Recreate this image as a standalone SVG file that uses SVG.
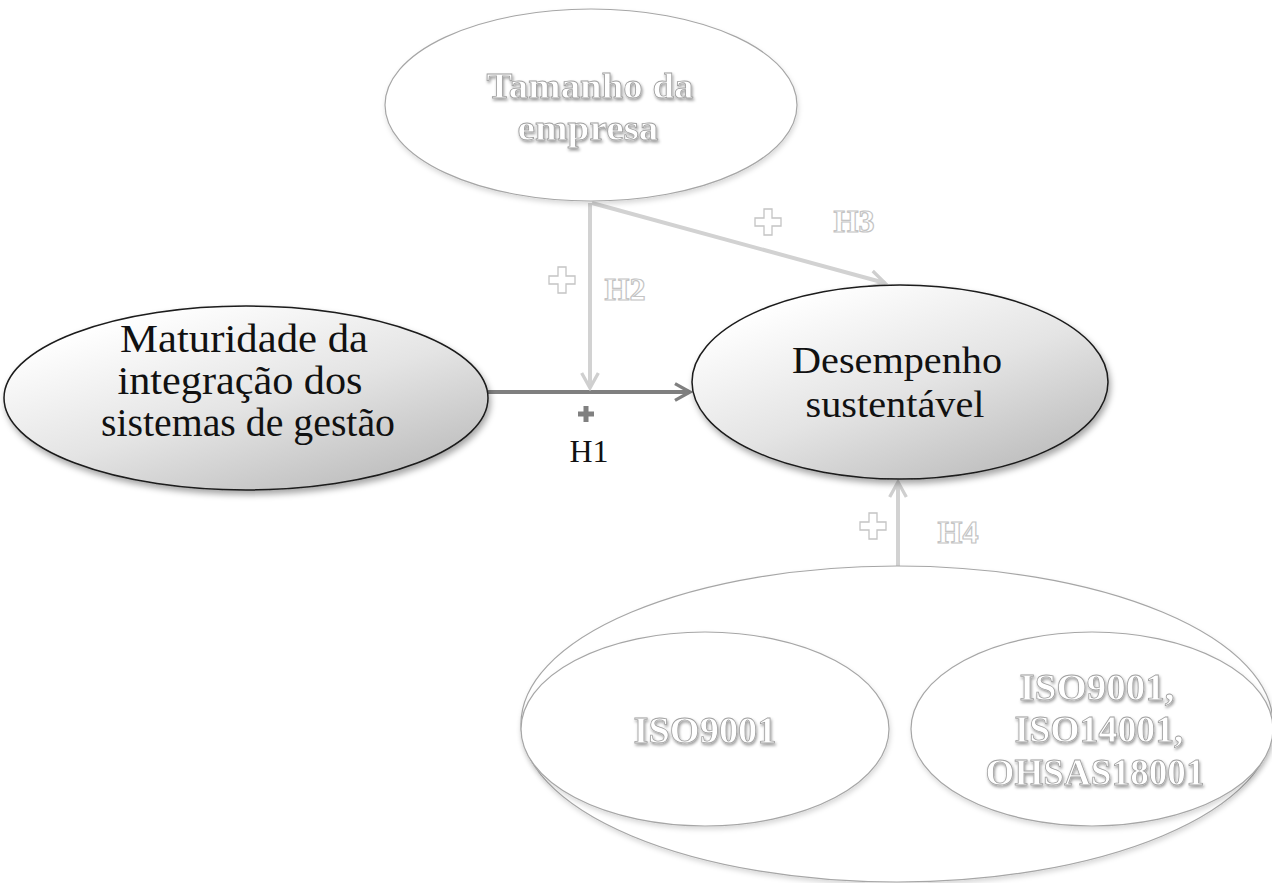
<svg xmlns="http://www.w3.org/2000/svg" width="1272" height="883" viewBox="0 0 1272 883">
<defs>
<linearGradient id="gFill" x1="0.2" y1="0.1" x2="0.85" y2="0.95">
<stop offset="0" stop-color="#ffffff"/>
<stop offset="0.5" stop-color="#e4e4e4"/>
<stop offset="1" stop-color="#bcbcbc"/>
</linearGradient>
<filter id="shadow" x="-10%" y="-10%" width="125%" height="130%">
<feDropShadow dx="2" dy="4" stdDeviation="3" flood-color="#000" flood-opacity="0.35"/>
</filter>
<filter id="softShadow" x="-10%" y="-10%" width="125%" height="130%">
<feDropShadow dx="1" dy="3" stdDeviation="2.5" flood-color="#000" flood-opacity="0.15"/>
</filter>
<filter id="txtShadow" x="-10%" y="-20%" width="130%" height="150%">
<feDropShadow dx="1" dy="2" stdDeviation="1.5" flood-color="#000" flood-opacity="0.4"/>
</filter>
<marker id="arrDark" viewBox="0 0 12 12" refX="10" refY="6" markerWidth="5" markerHeight="5" markerUnits="strokeWidth" orient="auto">
<path d="M1,1 L10,6 L1,11" fill="none" stroke="#7f7f7f" stroke-width="2"/>
</marker>
<marker id="arrLight" viewBox="0 0 12 12" refX="10" refY="6" markerWidth="5" markerHeight="5" markerUnits="strokeWidth" orient="auto">
<path d="M1,1 L10,6 L1,11" fill="none" stroke="#cfcfcf" stroke-width="2"/>
</marker>
<path id="plus" d="M-4,-13 H4 V-4 H13 V4 H4 V13 H-4 V4 H-13 V-4 H-4 Z"/>
<path id="plusS" d="M-2.5,-8 H2.5 V-2.5 H8 V2.5 H2.5 V8 H-2.5 V2.5 H-8 V-2.5 H-2.5 Z"/>
</defs>
<style>
.main{fill:url(#gFill);stroke:#1a1a1a;stroke-width:1.5;filter:url(#shadow)}
.plain{fill:#ffffff;stroke:#a6a6a6;stroke-width:1.2;filter:url(#softShadow)}
.dark{font-family:"Liberation Serif","DejaVu Serif",serif;fill:#111;text-anchor:middle}
.emb{font-family:"Liberation Serif","DejaVu Serif",serif;font-weight:bold;fill:#ffffff;stroke:#a0a0a0;stroke-width:0.8;text-anchor:middle;filter:url(#txtShadow)}
.lab{font-family:"Liberation Serif","DejaVu Serif",serif;font-weight:bold;fill:#ffffff;stroke:#c4c4c4;stroke-width:1.2;font-size:32px;text-anchor:middle}
.cdark{fill:none;stroke:#7f7f7f;stroke-width:4}
.clight{fill:none;stroke:#d2d2d2;stroke-width:4}
.plusL{fill:#ffffff;stroke:#c4c4c4;stroke-width:1.3}
.plusD{fill:#808080}
</style>

<g id="connectors">
<line class="cdark" x1="488" y1="392" x2="690" y2="392" marker-end="url(#arrDark)"/>
<line class="clight" x1="590" y1="203" x2="590" y2="388" marker-end="url(#arrLight)"/>
<line class="clight" x1="592" y1="203" x2="885" y2="283" marker-end="url(#arrLight)"/>
<line class="clight" x1="898" y1="567" x2="898" y2="482" marker-end="url(#arrLight)"/>
</g>

<g id="node-tamanho">
<ellipse class="plain" cx="591" cy="105" rx="206" ry="96"/>
<text class="emb" x="590" y="98" font-size="35" textLength="207" lengthAdjust="spacingAndGlyphs">Tamanho da</text>
<text class="emb" x="588" y="140" font-size="35" textLength="141" lengthAdjust="spacingAndGlyphs">empresa</text>
</g>

<g id="node-maturidade">
<ellipse class="main" cx="246" cy="398" rx="242" ry="92"/>
<text class="dark" x="244" y="352" font-size="40" textLength="248" lengthAdjust="spacingAndGlyphs">Maturidade da</text>
<text class="dark" x="240" y="394" font-size="40" textLength="245" lengthAdjust="spacingAndGlyphs">integração dos</text>
<text class="dark" x="248" y="436" font-size="40" textLength="294" lengthAdjust="spacingAndGlyphs">sistemas de gestão</text>
</g>

<g id="node-desempenho">
<ellipse class="main" cx="900" cy="382" rx="208" ry="97"/>
<text class="dark" x="897" y="373" font-size="38" textLength="210" lengthAdjust="spacingAndGlyphs">Desempenho</text>
<text class="dark" x="895" y="417" font-size="38" textLength="179" lengthAdjust="spacingAndGlyphs">sustentável</text>
</g>

<g id="node-iso-group">
<ellipse class="plain" cx="897" cy="724" rx="376" ry="158"/>
</g>

<g id="node-iso9001">
<ellipse class="plain" cx="705" cy="729" rx="184" ry="97"/>
<text class="emb" x="705" y="743" font-size="38" textLength="143" lengthAdjust="spacingAndGlyphs">ISO9001</text>
</g>

<g id="node-iso-multi">
<ellipse class="plain" cx="1092" cy="729" rx="181" ry="97"/>
<text class="emb" x="1097" y="700" font-size="37" textLength="155" lengthAdjust="spacingAndGlyphs">ISO9001,</text>
<text class="emb" x="1099" y="742" font-size="37" textLength="169" lengthAdjust="spacingAndGlyphs">ISO14001,</text>
<text class="emb" x="1095" y="785" font-size="37" textLength="219" lengthAdjust="spacingAndGlyphs">OHSAS18001</text>
</g>

<g id="labels">
<use href="#plusS" class="plusD" transform="translate(586,414)"/>
<text class="dark" x="589" y="462" font-size="32">H1</text>
<use href="#plus" class="plusL" transform="translate(562,280)"/>
<text class="lab" x="625" y="300">H2</text>
<use href="#plus" class="plusL" transform="translate(768,222)"/>
<text class="lab" x="854" y="232">H3</text>
<use href="#plus" class="plusL" transform="translate(873,526)"/>
<text class="lab" x="958" y="543">H4</text>
</g>
</svg>
